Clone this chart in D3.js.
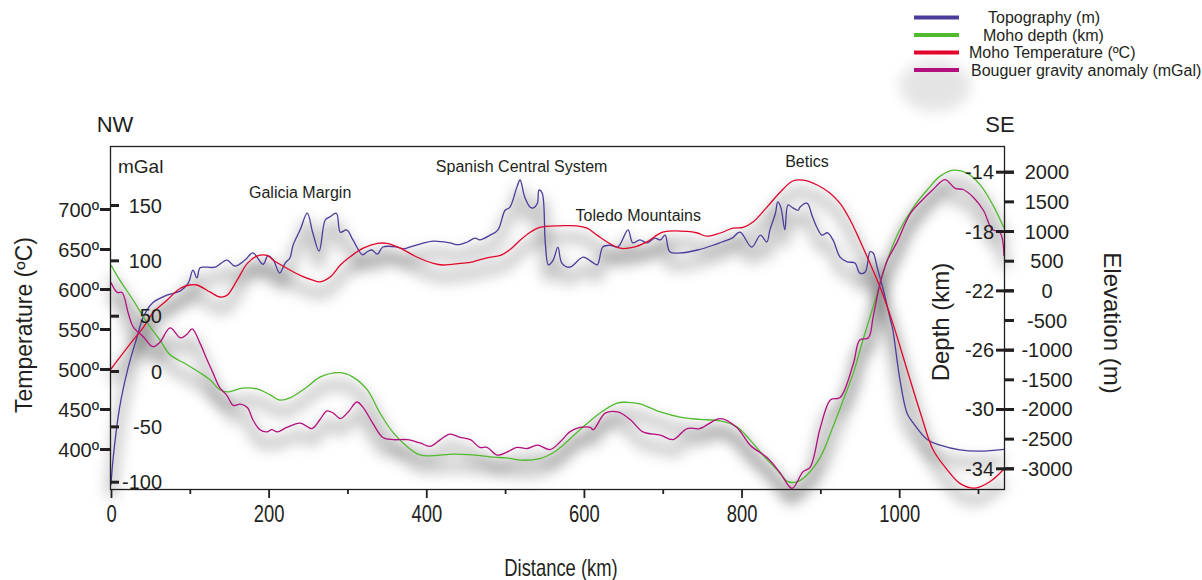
<!DOCTYPE html>
<html>
<head>
<meta charset="utf-8">
<script src="https://cdn.jsdelivr.net/npm/d3@7"></script>
<style>
  body { margin: 0; background: #fff; }
  text { font-family: "Liberation Sans", Arial, Helvetica, sans-serif; fill: #231f20; }
</style>
</head>
<body>
<div id="chart"></div>
<script>
// profile values: [distance km, value]
const topography = [[0,-3280],[2.5,-2860],[11,-1970],[22,-1290],[33,-790],[41,-450],[53,-210],[71,-80],[88,-10],[98,120],[104,340],[109,210],[113,380],[122,390],[132,390],[147,510],[157,410],[170,510],[180,630],[193,440],[199,580],[206,510],[214,290],[221,460],[227,545],[231,760],[240,1020],[249,1300],[256,970],[264,660],[272,1190],[278,1240],[286,1300],[291,980],[299,1020],[307,850],[319,600],[325,650],[331,680],[338,610],[345,730],[363,730],[371,700],[379,730],[392,780],[409,830],[430,800],[440,770],[452,815],[462,880],[468,850],[481,930],[491,1020],[500,1350],[506,1400],[515,1740],[519,1860],[525,1570],[532,1400],[536,1390],[541,1470],[543,1690],[547,1640],[551,800],[555,430],[561,510],[567,730],[572,460],[582,390],[599,560],[610,480],[617,430],[624,730],[633,760],[643,730],[656,1020],[662,800],[671,850],[680,800],[690,880],[697,850],[703,930],[709,650],[722,630],[744,680],[764,760],[775,815],[788,880],[798,980],[813,730],[824,930],[832,815],[836,1020],[843,1300],[846,1490],[850,1390],[855,1020],[859,1440],[865,1390],[872,1350],[874,1400],[883,1470],[890,1240],[896,1050],[902,930],[909,970],[916,850],[925,560],[934,480],[944,460],[950,290],[957,310],[963,650],[967,630],[972,390],[980,0],[989,-500],[992,-670],[1001,-1510],[1010,-2070],[1018,-2240],[1036,-2520],[1052,-2610],[1077,-2690],[1103,-2710],[1133,-2680]];

const mohoDepth = [[0,-20.3],[11,-21.3],[28,-22.65],[46,-24.2],[62,-25.35],[75,-26.35],[96,-27.0],[117,-27.7],[126,-28.05],[138,-28.7],[148,-28.85],[167,-28.6],[185,-28.65],[202,-29.05],[214,-29.4],[227,-29.25],[249,-28.5],[265,-27.85],[291,-27.55],[307,-27.85],[325,-28.7],[341,-30.25],[358,-31.6],[376,-32.55],[392,-33.1],[409,-33.15],[434,-33.05],[459,-33.1],[485,-33.25],[502,-33.3],[519,-33.45],[544,-33.35],[561,-32.95],[570,-32.6],[595,-31.4],[621,-30.25],[642,-29.6],[655,-29.55],[671,-29.65],[697,-30.2],[722,-30.55],[747,-30.7],[773,-30.8],[794,-31.2],[811,-32.1],[827,-33.1],[845,-34.1],[859,-34.9],[871,-34.9],[883,-34.45],[900,-33.25],[916,-31.2],[929,-29.4],[942,-27.55],[954,-25.35],[967,-23.1],[976,-21.5],[985,-19.95],[1001,-17.9],[1018,-16.4],[1036,-15.2],[1052,-14.3],[1069,-13.9],[1086,-14.1],[1103,-14.9],[1119,-16.25],[1133,-17.8]];

const mohoTemp = [[0,500],[28,536],[41,552],[53,570],[71,586],[88,601],[100,605],[109,605],[126,596],[138,590],[147,592],[160,611],[173,632],[185,641],[198,642],[206,636],[223,626],[240,617],[256,611],[265,609],[278,615],[291,630],[303,640],[320,651],[338,657],[350,657],[367,651],[388,640],[409,632],[421,630],[443,632],[459,634],[477,639],[494,642],[506,649],[519,661],[532,671],[544,677],[570,679],[591,679],[604,676],[617,667],[629,659],[646,651],[662,652],[680,659],[700,671],[731,672],[744,670],[756,666],[773,670],[789,676],[802,677],[815,684],[832,702],[849,721],[865,735],[878,736],[896,730],[912,720],[925,707],[938,686],[950,661],[963,632],[976,602],[992,557],[1010,499],[1027,445],[1043,399],[1061,374],[1077,357],[1096,351],[1115,359],[1133,375]];

const bouguer = [[0,80],[8,71],[14,71],[22,52],[28,40],[41,31],[53,22],[62,26],[75,39],[88,30],[96,33],[103,38],[113,25],[122,10],[129,-1],[138,-15],[147,-22],[155,-31],[164,-30],[173,-33],[180,-44],[189,-53],[198,-55],[204,-53],[211,-55],[223,-51],[240,-47],[255,-52],[265,-44],[274,-36],[282,-38],[291,-43],[301,-37],[312,-28],[320,-33],[332,-47],[345,-60],[358,-62],[376,-62],[392,-65],[405,-68],[418,-62],[430,-57],[443,-60],[456,-62],[468,-69],[477,-69],[490,-76],[503,-73],[515,-69],[528,-70],[541,-67],[557,-71],[570,-64],[582,-55],[595,-51],[608,-51],[612,-53],[627,-38],[643,-37],[659,-44],[675,-55],[697,-58],[713,-62],[731,-52],[747,-52],[773,-43],[794,-51],[811,-67],[832,-78],[849,-92],[864,-106],[878,-91],[887,-87],[900,-51],[913,-26],[925,-24],[942,7],[950,28],[961,30],[967,49],[976,80],[985,100],[997,116],[1014,142],[1030,155],[1043,164],[1058,173],[1071,165],[1081,164],[1094,157],[1107,145],[1118,128],[1128,125],[1133,104]];

const tempTicks = [400, 450, 500, 550, 600, 650, 700];
const gravTicks = [-100, -50, 0, 50, 100, 150];
const depthTicks = [-34, -30, -26, -22, -18, -14];
const elevTicks = d3.range(-3000, 2001, 500);
const distTicks = d3.range(0, 1101, 100);

const regions = [
  { label: "Galicia Margin", km: 240, y: 198 },
  { label: "Spanish Central System", km: 521, y: 172 },
  { label: "Toledo Mountains", km: 669, y: 221 },
  { label: "Betics", km: 883, y: 167 }
];

const width = 1202, height = 580;
const frame = { left: 110, right: 1004, top: 146, bottom: 489 };
const squeeze = 0.8; // the distance axis uses a condensed face

const svg = d3.select("#chart").append("svg")
  .attr("width", width)
  .attr("height", height);

const defs = svg.append("defs");
defs.append("filter").attr("id", "soft")
  .attr("x", "-20%").attr("y", "-60%").attr("width", "140%").attr("height", "220%")
  .append("feGaussianBlur").attr("stdDeviation", 7);

// scales
const x = d3.scaleLinear().domain([0, 1133]).range([111, 1004]);
const yTemp = d3.scaleLinear().domain([400, 700]).range([449, 209]);
const yGrav = d3.scaleLinear().domain([-100, 150]).range([481.7, 205]);
const yDepth = d3.scaleLinear().domain([-34, -14]).range([468.3, 171.7]);
const yElev = d3.scaleLinear().domain([-3000, 2000]).range([468.3, 171.7]);

const series = [
  { name: "Topography (m)", data: topography, y: yElev, color: "#4d3b9c" },
  { name: "Moho depth (km)", data: mohoDepth, y: yDepth, color: "#4fba2c" },
  { name: "Moho Temperature (\u00baC)", data: mohoTemp, y: yTemp, color: "#e3062c" },
  { name: "Bouguer gravity anomaly (mGal)", data: bouguer, y: yGrav, color: "#b40f7e" }
];

function lineFor(s) {
  return d3.line()
    .x(d => x(d[0]))
    .y(d => s.y(d[1]))
    .curve(d3.curveCatmullRom.alpha(0.5))(s.data);
}

// soft grey shadows under the curves
const shadow = svg.append("g").attr("transform", "translate(0,12)").attr("filter", "url(#soft)");
series.forEach(s => {
  shadow.append("path")
    .attr("d", lineFor(s))
    .attr("fill", "none")
    .attr("stroke", "#000")
    .attr("stroke-opacity", 0.22)
    .attr("stroke-width", 11);
});
svg.append("ellipse")
  .attr("cx", 935).attr("cy", 86).attr("rx", 36).attr("ry", 26)
  .attr("fill", "#000").attr("opacity", 0.1).attr("filter", "url(#soft)");

// curves
series.forEach(s => {
  svg.append("path")
    .attr("d", lineFor(s))
    .attr("fill", "none")
    .attr("stroke", s.color)
    .attr("stroke-width", 1.3);
});

// frame
svg.append("rect")
  .attr("x", frame.left + 0.5).attr("y", frame.top + 0.5)
  .attr("width", frame.right - frame.left).attr("height", frame.bottom - frame.top)
  .attr("fill", "none").attr("stroke", "#231f20").attr("stroke-width", 1.3);

const plain = d => String(d); // hyphen minus, as in the figure

function styleAxis(g, w) {
  g.select(".domain").remove();
  g.selectAll(".tick line").attr("stroke", "#231f20").attr("stroke-width", w);
  g.selectAll(".tick text").attr("fill", "#231f20").attr("dy", "0.35em");
}

// temperature axis
const gTemp = svg.append("g").attr("transform", "translate(110,0)")
  .call(d3.axisLeft(yTemp).tickValues(tempTicks).tickSize(10).tickFormat(d => d + "\u00ba"));
styleAxis(gTemp, 3);
gTemp.selectAll(".tick text").attr("x", -11).style("font-size", "20px");

// gravity axis (inside frame)
const gGrav = svg.append("g").attr("transform", "translate(110,0)")
  .call(d3.axisRight(yGrav).tickValues(gravTicks).tickSize(9).tickFormat(plain));
styleAxis(gGrav, 3);
gGrav.selectAll(".tick text").attr("x", 52).attr("text-anchor", "end").style("font-size", "20px");

// depth axis (labels inside frame, ticks crossing)
const gDepth = svg.append("g").attr("transform", "translate(1014,0)")
  .call(d3.axisLeft(yDepth).tickValues(depthTicks).tickSize(18).tickFormat(plain));
styleAxis(gDepth, 3);
gDepth.selectAll(".tick text").attr("x", -20).style("font-size", "20px");

// elevation axis
const gElev = svg.append("g").attr("transform", "translate(1005,0)")
  .call(d3.axisRight(yElev).tickValues(elevTicks).tickSize(9).tickFormat(plain));
styleAxis(gElev, 3);
gElev.selectAll(".tick text").attr("x", 42).attr("text-anchor", "middle").style("font-size", "20px");

// distance axis
const gDist = svg.append("g").attr("transform", "translate(0,489)")
  .call(d3.axisBottom(x).tickValues(distTicks).tickSize(9).tickFormat(d => d % 200 === 0 ? d : ""));
gDist.select(".domain").remove();
gDist.selectAll(".tick line")
  .attr("stroke", "#231f20").attr("stroke-width", 1.8)
  .attr("y2", d => d % 200 === 0 ? 9 : 5);
gDist.selectAll(".tick text")
  .attr("fill", "#231f20")
  .attr("y", 33).attr("dy", 0)
  .attr("transform", `scale(${squeeze},1)`)
  .style("font-size", "23px");

// axis titles
svg.append("g").attr("transform", "translate(561,576)")
  .append("text")
  .attr("transform", `scale(${squeeze},1)`)
  .attr("text-anchor", "middle")
  .style("font-size", "23px").text("Distance (km)");

svg.append("text")
  .attr("transform", "translate(32,325) rotate(-90)")
  .attr("text-anchor", "middle").style("font-size", "23px")
  .text("Temperature (\u00baC)");

svg.append("text")
  .attr("transform", "translate(949,322) rotate(-90)")
  .attr("text-anchor", "middle").style("font-size", "24px")
  .text("Depth (km)");

svg.append("text")
  .attr("transform", "translate(1104,323) rotate(90)")
  .attr("text-anchor", "middle").style("font-size", "24px")
  .text("Elevation (m)");

svg.append("text").attr("x", 118).attr("y", 173).style("font-size", "19px").text("mGal");

svg.append("text").attr("x", 115).attr("y", 132).attr("text-anchor", "middle")
  .style("font-size", "22px").text("NW");
svg.append("text").attr("x", 1000).attr("y", 132).attr("text-anchor", "middle")
  .style("font-size", "22px").text("SE");

// region annotations
svg.selectAll(".region")
  .data(regions)
  .enter()
  .append("text")
  .attr("class", "region")
  .attr("x", d => x(d.km))
  .attr("y", d => d.y)
  .attr("text-anchor", "middle")
  .style("font-size", "16px")
  .text(d => d.label);

// legend
const legendTextX = [988, 983, 969, 971];
const legend = svg.append("g");
series.forEach((s, i) => {
  const ly = 17.5 + i * 17.5;
  legend.append("line")
    .attr("x1", 914).attr("x2", 959).attr("y1", ly).attr("y2", ly)
    .attr("stroke", s.color).attr("stroke-width", 4);
  legend.append("text")
    .attr("x", legendTextX[i]).attr("y", ly + 5.5)
    .style("font-size", "16px")
    .text(s.name);
});
</script>
</body>
</html>
